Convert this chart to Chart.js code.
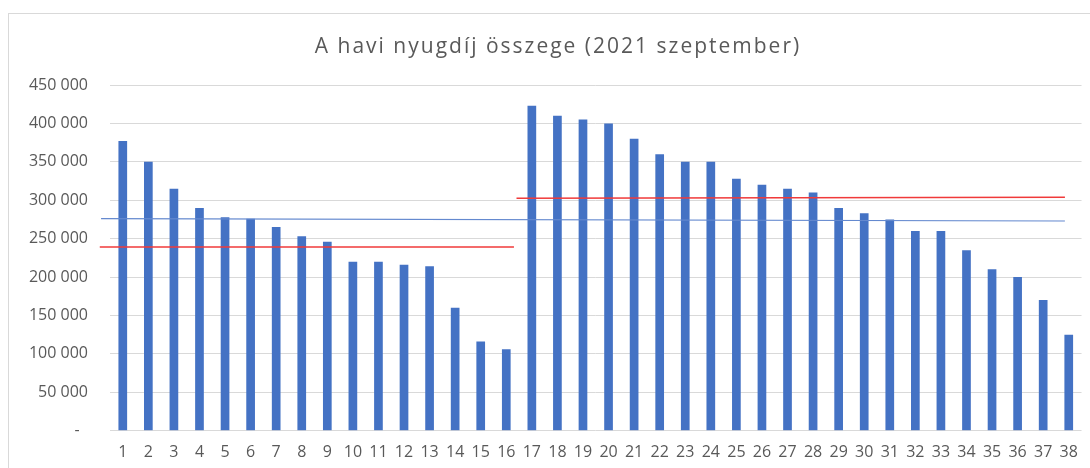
<!DOCTYPE html>
<html lang="hu">
<head>
<meta charset="utf-8">
<title>A havi nyugdíj összege</title>
<script src="https://cdn.jsdelivr.net/npm/chart.js@4.4.1/dist/chart.umd.min.js"></script>
<style>
    html, body { margin: 0; padding: 0; background: #ffffff; overflow: hidden; }
    #frame {
        position: absolute; left: 8px; top: 13px;
        width: 1200px; height: 600px;
        border: 1px solid #d9d9d9; box-sizing: border-box;
    }
    #wrap { position: absolute; left: 0; top: 0; width: 1090px; height: 468px; }
</style>
</head>
<body>
<div id="frame"></div>
<div id="wrap"><canvas id="chart" width="1090" height="468"></canvas></div>
<script>
// --- Datos ---
const categories = ['1','2','3','4','5','6','7','8','9','10','11','12','13','14','15','16','17','18','19',
    '20','21','22','23','24','25','26','27','28','29','30','31','32','33','34','35','36','37','38'];
const pensionValues = [377000, 350000, 315000, 290000, 278000, 276000, 265000, 253000, 246000, 220000,
    220000, 216000, 214000, 160000, 116000, 106000, 423000, 410000, 405000, 400000,
    380000, 360000, 350000, 350000, 328000, 320000, 315000, 310000, 290000, 283000,
    275000, 260000, 260000, 235000, 210000, 200000, 170000, 125000];
const yTicks = [0, 50000, 100000, 150000, 200000, 250000, 300000, 350000, 400000, 450000];

// líneas de referencia (posición en unidades de categoría)
const redLeftX = [0.1, 16.3];
const redLeftY = [239000, 239000];
const redRightX = [16.4, 37.85];
const redRightY = [302500, 303800];
const blueX = [0.15, 37.85];
const blueY = [276000, 273000];

const TITLE = 'A havi nyugdíj összege (2021 szeptember)';
const TEXT_COLOR = '#595959';
const FONT = '"Open Sans", "Noto Sans", sans-serif';

function toPoints(xs, ys) {
    return xs.map((x, i) => ({ x: x, y: ys[i] }));
}

function formatHu(v) {
    if (v === 0) return '-  ';
    return v.toString().replace(/\B(?=(\d{3})+(?!\d))/g, ' ');
}

// Título dibujado a mano (un poco más ancho, como en el original)
const titlePlugin = {
    id: 'wideTitle',
    afterDraw(chart) {
        const c = chart.ctx;
        c.save();
        c.font = '21px ' + FONT;
        c.fillStyle = TEXT_COLOR;
        c.textAlign = 'center';
        c.textBaseline = 'alphabetic';
        if ('letterSpacing' in c) c.letterSpacing = '2px';
        c.fillText(TITLE, 558, 53);
        c.restore();
    }
};

const ctx = document.getElementById('chart').getContext('2d');
new Chart(ctx, {
    data: {
        labels: categories,
        datasets: [{
            type: 'bar',
            data: pensionValues,
            backgroundColor: '#4472c4',
            borderWidth: 0,
            grouped: false,
            barPercentage: 0.34,
            categoryPercentage: 1,
            xAxisID: 'x',
            order: 2
        }, {
            type: 'line',
            data: toPoints(blueX, blueY),
            borderColor: '#6489cf',
            borderWidth: 1.2,
            pointRadius: 0,
            fill: false,
            clip: false,
            xAxisID: 'xl',
            order: 1
        }, {
            type: 'line',
            data: toPoints(redLeftX, redLeftY),
            borderColor: '#f03a3a',
            borderWidth: 1.5,
            pointRadius: 0,
            fill: false,
            clip: false,
            xAxisID: 'xl',
            order: 0
        }, {
            type: 'line',
            data: toPoints(redRightX, redRightY),
            borderColor: '#f03a3a',
            borderWidth: 1.5,
            pointRadius: 0,
            fill: false,
            clip: false,
            xAxisID: 'xl',
            order: 0
        }]
    },
    options: {
        responsive: false,
        animation: false,
        layout: { padding: { left: 0, right: 8, top: 85, bottom: 0 } },
        scales: {
            x: {
                type: 'category',
                offset: true,
                grid: { display: false, drawTicks: false },
                border: { display: false },
                ticks: {
                    color: TEXT_COLOR, font: { family: FONT, size: 16 },
                    padding: 12, maxRotation: 0, autoSkip: false
                },
                afterFit: (scale) => { scale.height = 37.3; }
            },
            xl: {
                type: 'linear',
                display: false,
                min: 0.5,
                max: 38.5
            },
            y: {
                min: 0,
                max: 450000,
                afterBuildTicks: (scale) => { scale.ticks = yTicks.map(v => ({ value: v })); },
                grid: { color: '#d9d9d9', lineWidth: 1, drawTicks: false },
                border: { display: false },
                ticks: {
                    color: TEXT_COLOR, font: { family: FONT, size: 16 },
                    padding: 22,
                    callback: (v) => formatHu(v)
                },
                afterFit: (scale) => { scale.width = 110; }
            }
        },
        plugins: {
            legend: { display: false },
            tooltip: { enabled: false },
            title: { display: false }
        }
    },
    plugins: [titlePlugin]
});
</script>
</body>
</html>
